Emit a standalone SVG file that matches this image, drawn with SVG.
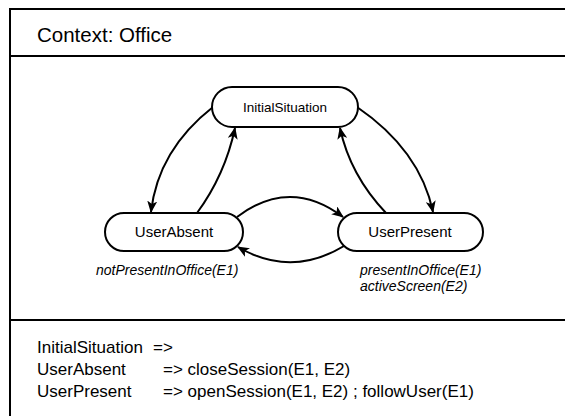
<svg xmlns="http://www.w3.org/2000/svg" width="565" height="416" viewBox="0 0 565 416">
  <style>
    text { font-family: "Liberation Sans", Arial, sans-serif; fill: #000; }
    .frame { fill: none; stroke: #000; stroke-width: 2; }
    .node { fill: #fff; stroke: #000; stroke-width: 2; }
    .edge { fill: none; stroke: #000; stroke-width: 2; marker-end: url(#arrow); }
    .title { font-size: 20.5px; }
    .n13 { font-size: 13.5px; text-anchor: middle; }
    .n15 { font-size: 15px; text-anchor: middle; }
    .lbl { font-size: 14px; font-style: italic; }
    .rule { font-size: 17px; }
  </style>
  <defs>
    <marker id="arrow" viewBox="0 0 12 10" refX="11" refY="5" markerWidth="12" markerHeight="10" markerUnits="userSpaceOnUse" orient="auto">
      <path d="M0,0 L12,5 L0,10 L3,5 Z" fill="#000"/>
    </marker>
  </defs>
  <rect x="0" y="0" width="565" height="416" fill="#fff"/>
  <g id="frame">
    <path class="frame" d="M10,417 L10,9 L566,9"/>
    <line class="frame" x1="10" y1="56" x2="566" y2="56"/>
    <line class="frame" x1="10" y1="320" x2="566" y2="320"/>
    <text class="title" x="37" y="42">Context: Office</text>
  </g>
  <g id="connectors">
    <path class="edge" d="M213,107 Q158,150 151,212"/>
    <path class="edge" d="M197,213 Q225,175 235,128"/>
    <path class="edge" d="M357,107 Q420,150 433,212"/>
    <path class="edge" d="M386,213 Q350,175 340,128"/>
    <path class="edge" d="M237,217 Q290,177 343,217"/>
    <path class="edge" d="M344,246 Q291,278 238,247"/>
  </g>
  <g id="InitialSituation">
    <rect class="node" x="212" y="87" width="146" height="40" rx="20" ry="20"/>
    <text class="n13" x="285" y="112">InitialSituation</text>
  </g>
  <g id="UserAbsent">
    <rect class="node" x="105" y="213" width="138" height="38" rx="19" ry="19"/>
    <text class="n15" x="174" y="237">UserAbsent</text>
    <text class="lbl" x="96" y="275">notPresentInOffice(E1)</text>
  </g>
  <g id="UserPresent">
    <rect class="node" x="338" y="213" width="145" height="38" rx="19" ry="19"/>
    <text class="n15" x="410" y="237">UserPresent</text>
    <text class="lbl" x="360" y="275">presentInOffice(E1)</text>
    <text class="lbl" x="360" y="291">activeScreen(E2)</text>
  </g>
  <g id="rules">
    <text class="rule" x="37" y="353">InitialSituation<tspan x="153">=&gt;</tspan></text>
    <text class="rule" x="37" y="375">UserAbsent<tspan x="163">=&gt; closeSession(E1, E2)</tspan></text>
    <text class="rule" x="37" y="397">UserPresent<tspan x="163">=&gt; openSession(E1, E2) ; followUser(E1)</tspan></text>
  </g>
</svg>
